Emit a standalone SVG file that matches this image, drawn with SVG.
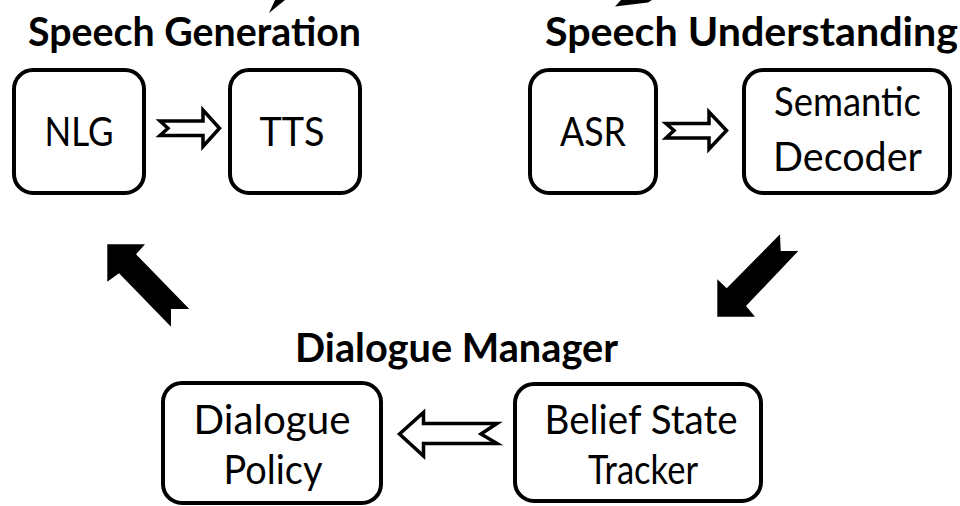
<svg xmlns="http://www.w3.org/2000/svg" width="960" height="506" viewBox="0 0 960 506">
  <style>
    .box { fill: #ffffff; stroke: #000000; stroke-width: 4; }
    .lbl { font-family: Lato, "Open Sans", "Liberation Sans", sans-serif; font-size: 40px; fill: #000000; text-anchor: middle; }
    .ttl { font-family: Lato, "Open Sans", "Liberation Sans", sans-serif; font-size: 41px; font-weight: bold; fill: #000000; text-anchor: middle; }
    .hollow { fill: #ffffff; stroke: #000000; stroke-width: 3.5; stroke-linejoin: miter; stroke-miterlimit: 6; }
    .solid { fill: #000000; stroke: none; }
  </style>
  <rect x="0" y="0" width="960" height="506" fill="#ffffff"/>

  <g id="titles">
    <text class="ttl" x="194.5" y="46" textLength="333" lengthAdjust="spacingAndGlyphs">Speech Generation</text>
    <text class="ttl" x="751.5" y="46" textLength="413" lengthAdjust="spacingAndGlyphs">Speech Understanding</text>
    <text class="ttl" x="456.5" y="362" textLength="323" lengthAdjust="spacingAndGlyphs">Dialogue Manager</text>
  </g>

  <g id="nlg">
    <rect class="box" x="14" y="70" width="130" height="123" rx="19"/>
    <text class="lbl" x="79" y="146" textLength="69" lengthAdjust="spacingAndGlyphs">NLG</text>
  </g>
  <g id="tts">
    <rect class="box" x="230" y="70" width="130" height="123" rx="19"/>
    <text class="lbl" x="292" y="146" textLength="65" lengthAdjust="spacingAndGlyphs">TTS</text>
  </g>
  <g id="asr">
    <rect class="box" x="530" y="70" width="126" height="123" rx="19"/>
    <text class="lbl" x="593" y="146" textLength="66" lengthAdjust="spacingAndGlyphs">ASR</text>
  </g>
  <g id="semantic-decoder">
    <rect class="box" x="744" y="70" width="206" height="123" rx="19"/>
    <text class="lbl" x="847.5" y="116" textLength="147" lengthAdjust="spacingAndGlyphs">Semantic</text>
    <text class="lbl" x="847.5" y="171" textLength="149" lengthAdjust="spacingAndGlyphs">Decoder</text>
  </g>
  <g id="dialogue-policy">
    <rect class="box" x="163" y="383" width="218" height="120" rx="19"/>
    <text class="lbl" x="272" y="434" textLength="157" lengthAdjust="spacingAndGlyphs">Dialogue</text>
    <text class="lbl" x="273" y="484" textLength="99" lengthAdjust="spacingAndGlyphs">Policy</text>
  </g>
  <g id="belief-state-tracker">
    <rect class="box" x="515" y="384" width="246" height="117" rx="19"/>
    <text class="lbl" x="641" y="434" textLength="193" lengthAdjust="spacingAndGlyphs">Belief State</text>
    <text class="lbl" x="643" y="484" textLength="110" lengthAdjust="spacingAndGlyphs">Tracker</text>
  </g>

  <g id="connectors">
    <polygon class="hollow" points="160,121 203,121 203,110 219.5,128.3 203,146.5 203,135.5 160,135.5 168,128.3"/>
    <polygon class="hollow" points="666,123.5 709,123.5 709,112 726.5,130.5 709,149 709,138 666,138 674,130.5"/>
    <polygon class="hollow" points="399.5,434 423.5,412.5 423.5,423.5 497,423.5 481,434 497,443.5 423.5,443.5 423.5,456"/>
    <polygon class="solid" points="107.3,244.3 145,244.3 136,254.3 189.3,309 171,309 171,326.7 119,273.3 107.3,281.7"/>
    <polygon class="solid" points="780,234.3 780.7,251 798.3,251 746,306 755,316.7 717.3,316.7 717.3,279.3 726.7,288.3"/>
    <polygon class="solid" points="269,13 275,0 285,0"/>
    <polygon class="solid" points="615,6.5 621,0 652,0 648,2.5"/>
  </g>
</svg>
